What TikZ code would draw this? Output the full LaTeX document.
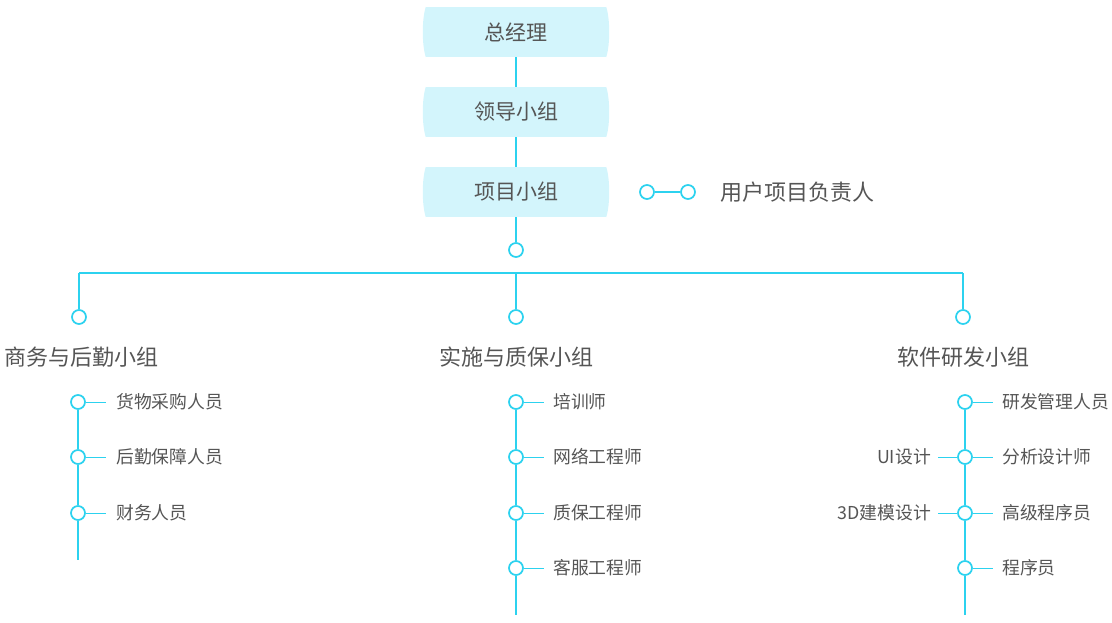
\documentclass[tikz,border=0pt]{standalone}
\usepackage{fontspec}
\newfontfamily\cjk{Noto Sans CJK SC}
\definecolor{lc}{HTML}{2CD2EF}
\definecolor{bf}{HTML}{D3F5FC}
\definecolor{tc}{HTML}{555555}
\tikzset{
  box/.style={fill=bf, minimum width=180pt, minimum height=50pt, inner sep=0pt, font=\cjk\fontsize{21}{25}\selectfont, text=tc},
  dot/.style={circle, draw=lc, line width=1.7pt, fill=white, minimum size=14pt, inner sep=0pt},
  ln/.style={draw=lc, line width=1.7pt},
  tick/.style={draw=lc, line width=1pt},
  glab/.style={font=\cjk\fontsize{22}{26}\selectfont, text=tc, inner sep=0pt},
  slab/.style={font=\cjk\fontsize{17.8}{21}\selectfont, text=tc, inner sep=0pt},
}
\newcommand{\bulge}[1]{%
  \fill[bf] (#1.north east) .. controls +(4pt,-12pt) and +(4pt,12pt) .. (#1.south east) -- cycle;
  \fill[bf] (#1.north west) .. controls +(-4pt,-12pt) and +(-4pt,12pt) .. (#1.south west) -- cycle;}
\begin{document}
\begin{tikzpicture}[x=1pt,y=-1pt]
\useasboundingbox (0,0) rectangle (1112,622);
% top boxes
\node[box] (b1) at (516,32) {总经理};
\node[box] (b2) at (516,112) {领导小组};
\node[box] (b3) at (516,192) {项目小组};
\bulge{b1}\bulge{b2}\bulge{b3}
\node[dot] (c0) at (516,250) {};
\draw[ln] (b1.south) -- (b2.north);
\draw[ln] (b2.south) -- (b3.north);
\draw[ln] (b3.south) -- (c0);
% user legend
\node[dot] (u1) at (647,192) {};
\node[dot] (u2) at (688,192) {};
\draw[ln] (u1) -- (u2);
\node[glab, anchor=west] (ul) at (720,192) {用户项目负责人};
% horizontal bar
\coordinate (h1) at (79,273);
\coordinate (h2) at (516,273);
\coordinate (h3) at (963,273);
\node[dot] (g1) at (79,317) {};
\node[dot] (g2) at (516,317) {};
\node[dot] (g3) at (963,317) {};
\draw[ln] (h1) -- (h3);
\draw[ln] (h1) -- (g1);
\draw[ln] (h2) -- (g2);
\draw[ln] (h3) -- (g3);
% group labels
\node[glab, anchor=west] (gl1) at (4,357) {商务与后勤小组};
\node[glab] (gl2) at (516,357) {实施与质保小组};
\node[glab] (gl3) at (963,357) {软件研发小组};
% left column
\node[dot] (a1) at (78,402) {};
\node[dot] (a2) at (78,457) {};
\node[dot] (a3) at (78,513) {};
\coordinate (ae) at (78,560);
\draw[ln, line width=1.3pt] (a1) -- (a2);
\draw[ln, line width=1.3pt] (a2) -- (a3);
\draw[ln, line width=1.3pt] (a3) -- (ae);
\foreach \n/\y/\t in {a1/402/货物采购人员, a2/457/后勤保障人员, a3/513/财务人员}{
  \coordinate (\n t) at (106,\y);
  \draw[tick] (\n) -- (\n t);
  \node[slab, anchor=west] (\n l) at (116,\y) {\t};
}
% middle column
\node[dot] (m1) at (516,402) {};
\node[dot] (m2) at (516,457) {};
\node[dot] (m3) at (516,513) {};
\node[dot] (m4) at (516,568) {};
\coordinate (me) at (516,615);
\draw[ln, line width=1.3pt] (m1) -- (m2);
\draw[ln, line width=1.3pt] (m2) -- (m3);
\draw[ln, line width=1.3pt] (m3) -- (m4);
\draw[ln, line width=1.3pt] (m4) -- (me);
\foreach \n/\y/\t in {m1/402/培训师, m2/457/网络工程师, m3/513/质保工程师, m4/568/客服工程师}{
  \coordinate (\n t) at (544,\y);
  \draw[tick] (\n) -- (\n t);
  \node[slab, anchor=west] (\n l) at (553,\y) {\t};
}
% right column
\node[dot] (r1) at (965,402) {};
\node[dot] (r2) at (965,457) {};
\node[dot] (r3) at (965,513) {};
\node[dot] (r4) at (965,568) {};
\coordinate (re) at (965,615);
\draw[ln, line width=1.3pt] (r1) -- (r2);
\draw[ln, line width=1.3pt] (r2) -- (r3);
\draw[ln, line width=1.3pt] (r3) -- (r4);
\draw[ln, line width=1.3pt] (r4) -- (re);
\foreach \n/\y/\t in {r1/402/研发管理人员, r2/457/分析设计师, r3/513/高级程序员, r4/568/程序员}{
  \coordinate (\n t) at (993,\y);
  \draw[tick] (\n) -- (\n t);
  \node[slab, anchor=west] (\n l) at (1002,\y) {\t};
}
\foreach \n/\y/\t in {r2/457/UI设计, r3/513/3D建模设计}{
  \coordinate (\n s) at (938,\y);
  \draw[tick] (\n s) -- (\n);
  \node[slab, anchor=east] (\n k) at (931,\y) {\t};
}
\end{tikzpicture}
\end{document}
